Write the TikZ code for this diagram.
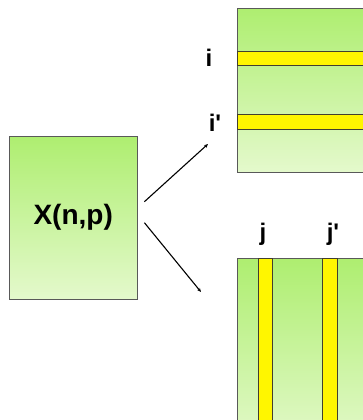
\documentclass[tikz,border=0pt]{standalone}
\usepackage{fontspec}
\setsansfont{Liberation Sans}
\usetikzlibrary{arrows.meta,positioning}

\definecolor{leafgreen}{RGB}{174,238,112}
\definecolor{palegreen}{RGB}{228,249,204}
\definecolor{bandyellow}{RGB}{255,246,0}

\tikzset{
  matbox/.style={draw=black!65, top color=leafgreen, bottom color=palegreen, inner sep=0pt, anchor=north west},
  band/.style={draw=black!70!olive, fill=bandyellow, inner sep=0pt, anchor=north west},
  idx/.style={font=\sffamily\bfseries\fontsize{24}{26}\selectfont, inner sep=0pt},
  pick/.style={-{Stealth[length=4pt,width=3.5pt]}, line width=1.1pt}
}

\begin{document}
\begin{tikzpicture}[x=1pt,y=-1pt]
\useasboundingbox (0,0) rectangle (363,420);
\clip (0,0) rectangle (363,420);

% data table
\node[matbox, minimum width=128pt, minimum height=163pt] (xnp) at (9,136) {};
\node (xlabel) at (xnp.center) [font=\sffamily\bfseries\fontsize{28}{30}\selectfont] {X(n,p)};

% rows
\node[matbox, minimum width=150pt, minimum height=164pt] (rows) at (237,8) {};
\node[band, minimum width=150pt, minimum height=14pt] (rowi) at (237,51) {};
\node[band, minimum width=150pt, minimum height=15pt] (rowii) at (237,114) {};
\node[idx] (li) at (209,58) {i};
\node[idx] (lii) at (215,123) {i\textquotesingle};

% columns
\node[matbox, minimum width=150pt, minimum height=190pt] (cols) at (237,258) {};
\node[band, minimum width=14pt, minimum height=190pt] (colj) at (258,258) {};
\node[band, minimum width=15pt, minimum height=190pt] (coljj) at (322,258) {};
\node[idx] (lj) at (263,234) {j};
\node[idx] (ljj) at (333,234) {j\textquotesingle};

\coordinate (up) at (208,144);
\coordinate (down) at (201,292);
\draw[pick] ([xshift=7pt,yshift=16pt]xnp.east) -- (up);
\draw[pick] ([xshift=7pt,yshift=-5pt]xnp.east) -- (down);

\end{tikzpicture}
\end{document}
